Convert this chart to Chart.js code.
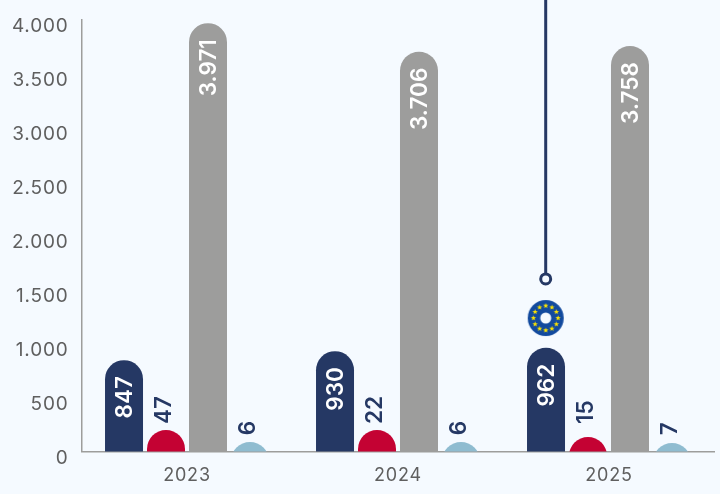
<!DOCTYPE html>
<html><head><meta charset="utf-8">
<style>html,body{margin:0;padding:0;background:#f5faff}canvas{display:block}#w{width:720px;height:494px;position:relative}</style>
<script src="https://cdn.jsdelivr.net/npm/chart.js@4"></script>
</head><body><div id="w"><canvas id="c" width="720" height="494"></canvas></div>
<script>
const categories = ['2023', '2024', '2025'];
const yTickLabels = ['0', '500', '1.000', '1.500', '2.000', '2.500', '3.000', '3.500', '4.000'];
// Printed values
const navyValues = [847, 930, 962];
const redValues = [47, 22, 15];
const grayValues = [3971, 3706, 3758];
const blueValues = [6, 6, 7];
const grayLabels = ['3.971', '3.706', '3.758'];
// Drawn heights (small bars are drawn taller than their value)
const redDrawn = [199, 199, 134];
const blueDrawn = [88, 88, 79];
const barBase = -400;
const redLabelEnd = 255;
const blueLabelEnd = 150;
// Marker line above the 2025 navy bar (x in category index units)
const markerX = [1.7, 1.7];
const markerY = [1600, 4200];
const flagY = [1237];

const FONT = 'Inter, "Open Sans", sans-serif';
const navy = '#253864', red = '#c40233', gray = '#9d9d9c', blue = '#8fbcd0';

function makeFlag() {
  const s = 38, c = document.createElement('canvas');
  c.width = s; c.height = s;
  const g = c.getContext('2d'), m = s / 2;
  g.fillStyle = '#124a9e';
  g.beginPath(); g.arc(m, m, 18, 0, 7); g.fill();
  g.fillStyle = '#f5faff';
  g.beginPath(); g.arc(m, m, 5.5, 0, 7); g.fill();
  g.fillStyle = '#ffe600';
  for (let i = 0; i < 12; i++) {
    const a = i * Math.PI / 6, cx = m + 12.3 * Math.cos(a), cy = m + 12.3 * Math.sin(a);
    g.beginPath();
    for (let k = 0; k < 10; k++) {
      const r = k % 2 ? 1.2 : 2.8, t = -Math.PI / 2 + k * Math.PI / 5;
      g.lineTo(cx + r * Math.cos(t), cy + r * Math.sin(t));
    }
    g.closePath(); g.fill();
  }
  return c;
}

const floated = a => a.map(v => [barBase, v]);
const barSet = (data, color) => ({
  type: 'bar', data: floated(data), backgroundColor: color, borderWidth: 0,
  borderRadius: { topLeft: 19, topRight: 19, bottomLeft: 0, bottomRight: 0 },
  borderSkipped: false,
  barPercentage: 0.905, categoryPercentage: 0.796
});

const labelPlugin = {
  id: 'barLabels',
  beforeDraw(chart) { chart.ctx.letterSpacing = '0.8px'; },
  afterDatasetsDraw(chart) {
    const { ctx, scales } = chart;
    const y = scales.y;
    const put = (x, py, text, color, align) => {
      ctx.save();
      ctx.translate(x, py);
      ctx.rotate(-Math.PI / 2);
      ctx.letterSpacing = '0px';
      ctx.font = '600 22.5px ' + FONT;
      ctx.fillStyle = color;
      ctx.textAlign = align;
      ctx.textBaseline = 'middle';
      ctx.fillText(text, 0, 0);
      ctx.restore();
    };
    const inside = (i, labels) => chart.getDatasetMeta(i).data.forEach((b, k) =>
      put(b.x + 1, b.y + 16, labels[k], '#ffffff', 'right'));
    const above = (i, labels, end) => chart.getDatasetMeta(i).data.forEach((b, k) =>
      put(b.x - 1.5, y.getPixelForValue(end), String(labels[k]), navy, 'left'));
    inside(0, navyValues.map(String));
    above(1, redValues, redLabelEnd);
    inside(2, grayLabels);
    above(3, blueValues, blueLabelEnd);
  }
};

new Chart(document.getElementById('c'), {
  data: {
    labels: categories,
    datasets: [
      barSet(navyValues, navy),
      barSet(redDrawn, red),
      barSet(grayValues, gray),
      barSet(blueDrawn, blue),
      {
        type: 'line', clip: false, parsing: false,
        data: markerX.map((x, i) => ({ x, y: markerY[i] })),
        borderColor: navy, borderWidth: 3,
        pointRadius: [5, 0], pointBorderWidth: 3,
        pointBackgroundColor: '#f5faff', pointBorderColor: navy
      },
      {
        type: 'line', clip: false, showLine: false, parsing: false,
        data: flagY.map(y => ({ x: markerX[0], y })),
        pointStyle: makeFlag(), pointRadius: 18
      }
    ]
  },
  plugins: [labelPlugin],
  options: {
    responsive: false, animation: false,
    layout: { autoPadding: false, padding: { top: 20, right: 5.5, left: 0, bottom: 0 } },
    plugins: { legend: { display: false }, tooltip: { enabled: false } },
    scales: {
      x: {
        type: 'category', offset: true,
        grid: { display: false, drawTicks: false },
        border: { color: gray, width: 1.5 },
        ticks: { color: '#5f5f5f', font: { family: FONT, size: 18 }, padding: 13 },
        afterFit(s) { s.height = 42.5; s.paddingLeft = 0; s.paddingRight = 0; }
      },
      y: {
        min: 0, max: 4000,
        grid: { display: false, drawTicks: false },
        border: { color: gray, width: 1.5 },
        ticks: {
          stepSize: 500, color: '#5f5f5f', font: { family: FONT, size: 19 }, padding: 13,
          labelOffset: 6.5, autoSkip: false,
          callback: (v, i) => yTickLabels[i]
        },
        afterFit(s) { s.width = 81.5; s.paddingTop = 0; s.paddingBottom = 0; }
      }
    }
  }
});
</script></body></html>
